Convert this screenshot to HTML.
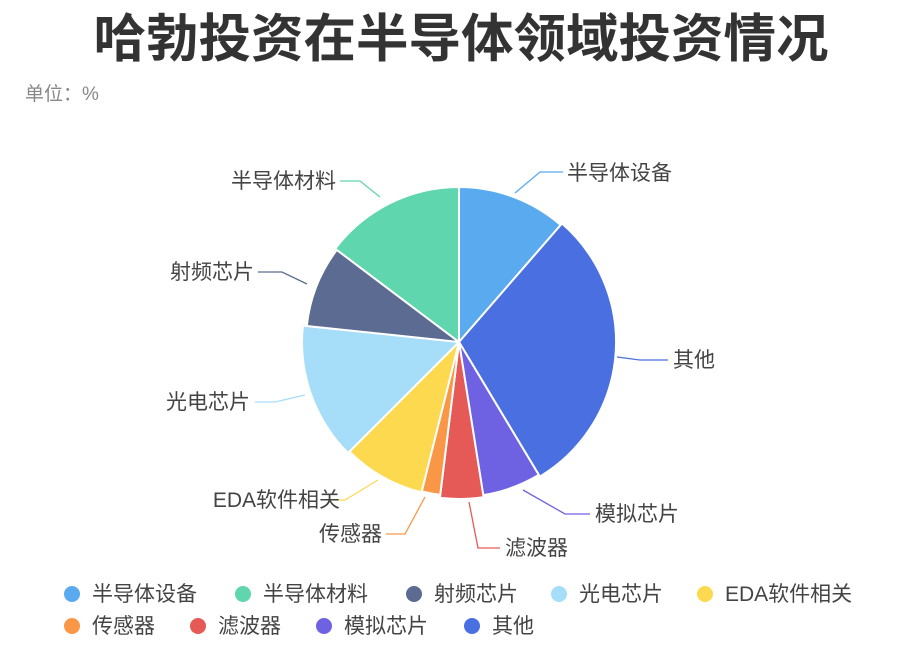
<!DOCTYPE html>
<html><head><meta charset="utf-8"><style>
body{margin:0;background:#fff;}
svg{display:block;font-family:"Liberation Sans","Noto Sans CJK SC",sans-serif;}
</style></head><body>
<svg width="913" height="652" viewBox="0 0 913 652">
<text x="461" y="57" text-anchor="middle" font-size="52" font-weight="bold" fill="#333" textLength="735" lengthAdjust="spacingAndGlyphs">哈勃投资在半导体领域投资情况</text>
<text x="25" y="100" font-size="19" fill="#888">单位：%</text>
<g id="pie" stroke="#fff" stroke-width="2" stroke-linejoin="round"></g>
<g fill="none" stroke-width="1.3">
<polyline points="515,193 540,172 563,172" stroke="#5aaaf0"/>
<polyline points="617,357 640,360 668,360" stroke="#4a6fe0"/>
<polyline points="523,490 565,514 590,514" stroke="#6e62e3"/>
<polyline points="469,502 478,548 500,548" stroke="#e55a57"/>
<polyline points="425,497 405,534 386,534" stroke="#f99746"/>
<polyline points="378,480 345,500 325,500" stroke="#fcd94f"/>
<polyline points="305,395 275,402 255,402" stroke="#a6ddf8"/>
<polyline points="307,284 282,272 258,272" stroke="#5b6b91"/>
<polyline points="380,197 360,181 340,181" stroke="#5fd6ad"/>
</g>
<g font-size="21" fill="#444">
<text x="567" y="180">半导体设备</text>
<text x="673" y="367">其他</text>
<text x="595" y="521">模拟芯片</text>
<text x="505" y="555">滤波器</text>
<text x="382" y="541" text-anchor="end">传感器</text>
<text x="340" y="507" text-anchor="end">EDA软件相关</text>
<text x="250" y="409" text-anchor="end">光电芯片</text>
<text x="254" y="279" text-anchor="end">射频芯片</text>
<text x="336" y="188" text-anchor="end">半导体材料</text>
</g>
<g font-size="21" fill="#444">
<circle cx="72" cy="594" r="8" fill="#5aaaf0"/><text x="92" y="601">半导体设备</text>
<circle cx="243" cy="594" r="8" fill="#5fd6ad"/><text x="263" y="601">半导体材料</text>
<circle cx="414" cy="594" r="8" fill="#5b6b91"/><text x="434" y="601">射频芯片</text>
<circle cx="559" cy="594" r="8" fill="#a6ddf8"/><text x="579" y="601">光电芯片</text>
<circle cx="705" cy="594" r="8" fill="#fcd94f"/><text x="725" y="601">EDA软件相关</text>
<circle cx="72" cy="626" r="8" fill="#f99746"/><text x="92" y="633">传感器</text>
<circle cx="198" cy="626" r="8" fill="#e55a57"/><text x="218" y="633">滤波器</text>
<circle cx="324" cy="626" r="8" fill="#6e62e3"/><text x="344" y="633">模拟芯片</text>
<circle cx="472" cy="626" r="8" fill="#4a6fe0"/><text x="492" y="633">其他</text>
</g>
</svg>
<script>
var s=[[0,41,155,"#5aaaf0"],[41,149,157,"#4a6fe0"],[149,171,155,"#6e62e3"],[171,187,157,"#e55a57"],[187,194,154,"#f99746"],[194,225,155,"#fcd94f"],[225,276,157,"#a6ddf8"],[276,307,153,"#5b6b91"],[307,360,155,"#5fd6ad"]];
var cx=459,cy=342,g=document.getElementById("pie"),h="";
function p(a,r){a=a*Math.PI/180;return (cx+r*Math.sin(a)).toFixed(1)+","+(cy-r*Math.cos(a)).toFixed(1);}
s.forEach(function(d){var l=(d[1]-d[0])>180?1:0;
h+='<path fill="'+d[3]+'" d="M'+cx+','+cy+' L'+p(d[0],d[2])+' A'+d[2]+','+d[2]+' 0 '+l+' 1 '+p(d[1],d[2])+' Z"/>';});
g.innerHTML=h;
</script>
</body></html>
